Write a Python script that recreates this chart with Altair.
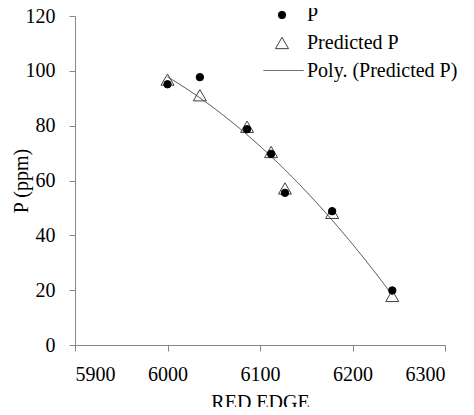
import altair as alt
import pandas as pd

red_edge = [6000, 6035, 6086, 6112, 6127, 6178, 6243]
p_actual = [95.1, 97.7, 78.7, 69.7, 55.5, 48.8, 19.9]
p_pred = [96.8, 91.1, 79.6, 70.4, 57.1, 48.2, 17.9]

trend_name = "Poly. (Predicted P)"

rows = []
for x, v in zip(red_edge, p_pred):
    rows.append({"x": x, "value": v, "series": "Predicted P", "order": 0})
for x, v in zip(red_edge, p_actual):
    rows.append({"x": x, "value": v, "series": "P", "order": 1})
points_df = pd.DataFrame(rows)
wide_df = pd.DataFrame({"x": red_edge, "pred": p_pred})

FONT = "Liberation Serif"
AXIS_GRAY = "#868686"

legend_pts = alt.Legend(
    title=None, orient="none", legendX=197, legendY=-11,
    labelFont=FONT, labelFontSize=20, labelColor="black",
    labelOffset=15, rowPadding=8, padding=0, symbolStrokeWidth=1,
)

xscale = alt.Scale(domain=[5900, 6300], nice=False, zero=False)
yscale = alt.Scale(domain=[0, 120], nice=False)

xaxis = alt.Axis(values=[5900, 6000, 6100, 6200, 6300], format="d", title="RED EDGE", grid=False)
yaxis = alt.Axis(values=[0, 20, 40, 60, 80, 100, 120], format="d", title="P (ppm)", grid=False)

dom_order = ["P", "Predicted P"]

points = alt.Chart(points_df).mark_point(strokeWidth=1, opacity=1).encode(
    x=alt.X("x:Q", scale=xscale, axis=xaxis),
    y=alt.Y("value:Q", scale=yscale, axis=yaxis),
    shape=alt.Shape("series:N", scale=alt.Scale(domain=dom_order, range=["circle", "triangle-up"]), legend=legend_pts),
    fill=alt.Fill("series:N", scale=alt.Scale(domain=dom_order, range=["black", "transparent"]), legend=legend_pts),
    stroke=alt.Stroke("series:N", scale=alt.Scale(domain=dom_order, range=["black", "#404040"]), legend=legend_pts),
    size=alt.Size("series:N", scale=alt.Scale(domain=dom_order, range=[55, 170]), legend=legend_pts),
    order=alt.Order("order:Q"),
)

trend = alt.Chart(wide_df).transform_regression(
    "x", "pred", method="poly", order=2
).transform_calculate(series=f"'{trend_name}'").mark_line(strokeWidth=1, color="#404040").encode(
    x=alt.X("x:Q", scale=xscale),
    y=alt.Y("pred:Q", scale=yscale),
    strokeDash=alt.StrokeDash(
        "series:N", scale=alt.Scale(range=[[1, 0]]),
        legend=alt.Legend(
            title=None, orient="none", legendX=188, legendY=34,
            labelFont=FONT, labelFontSize=20, labelColor="black",
            labelOffset=3, padding=0, symbolType="stroke", symbolSize=1600,
            symbolStrokeColor="#404040", symbolStrokeWidth=1,
        ),
    ),
)

chart = alt.layer(trend, points).properties(
    width=370, height=329,
    autosize=alt.AutoSizeParams(type="none"),
    padding={"left": 67, "top": 8, "right": 21, "bottom": 62},
).configure_view(stroke=None).configure_axis(
    domainColor=AXIS_GRAY, tickColor=AXIS_GRAY, tickSize=6,
    labelFont=FONT, labelFontSize=20, labelColor="black",
    titleFont=FONT, titleFontSize=20, titleFontWeight="normal", titleColor="black",
).configure_axisX(labelPadding=13, titlePadding=8).configure_axisY(labelPadding=14, titlePadding=-6)

chart.save("out.html", embed_options={"renderer": "svg", "actions": False})
